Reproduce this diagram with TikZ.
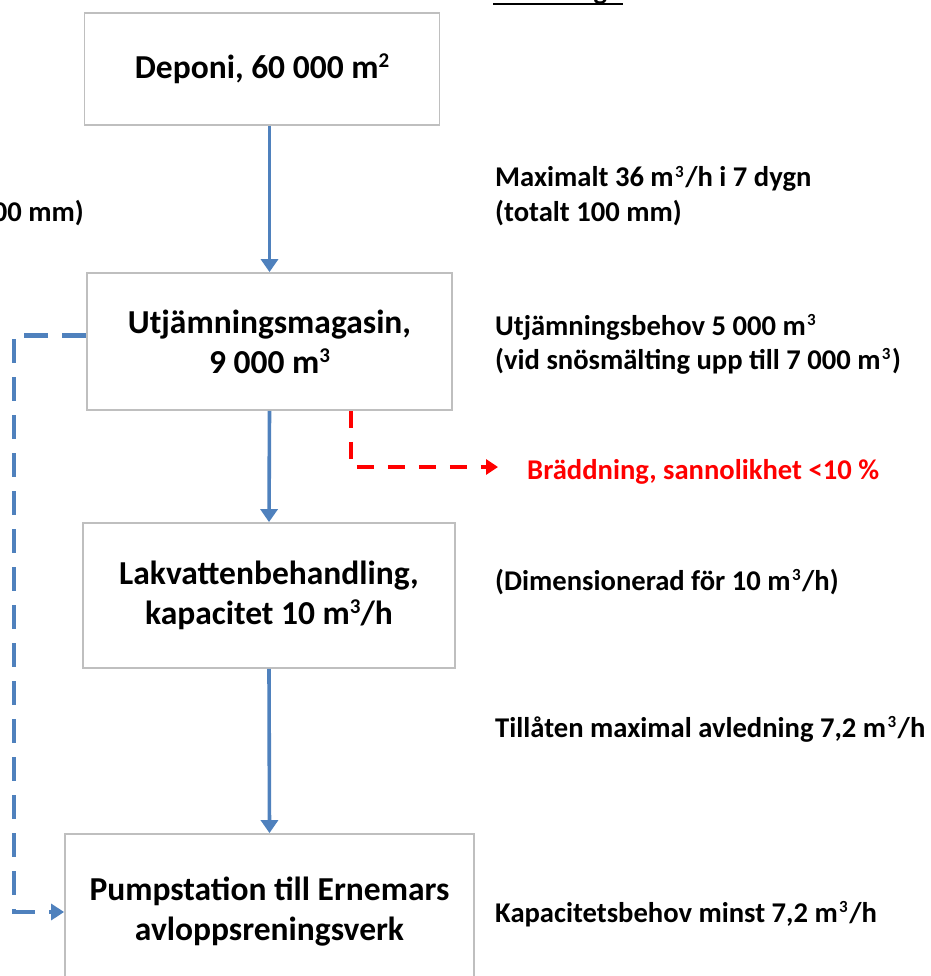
\documentclass[tikz,border=0pt]{standalone}
\usepackage{fontspec}
\setmainfont{Carlito}
\usetikzlibrary{arrows.meta}
\definecolor{flowblue}{RGB}{79,129,189}
\definecolor{boxgray}{RGB}{191,191,191}
\definecolor{overred}{RGB}{255,0,0}
\newcommand{\boxfont}{\fontsize{33.5}{40}\selectfont\bfseries}
\newcommand{\notefont}{\fontsize{28.6}{35}\selectfont\bfseries}
\newcommand{\bsup}[1]{\raisebox{11pt}{\fontsize{21}{21}\selectfont #1}}
\newcommand{\nsup}[1]{\kern1.5pt\raisebox{9.5pt}{\fontsize{17}{17}\selectfont #1}\kern1.5pt}
\begin{document}
\begin{tikzpicture}[x=1pt,y=-1pt,
  box/.style={draw=boxgray, line width=1.8pt, fill=white, align=center, inner sep=0pt, font=\boxfont},
  flow/.style={draw=flowblue, line width=3.6pt, -{Triangle[width=17pt,length=13pt]}},
  bluedash/.style={draw=flowblue, line width=4.2pt, dash pattern=on 24pt off 14pt, -{Triangle[width=16pt,length=13pt]}},
  reddash/.style={draw=overred, line width=4.2pt, dash pattern=on 17pt off 14pt, -{Triangle[width=15pt,length=12pt]}},
  note/.style={anchor=base west, inner sep=0pt, font=\notefont},
]
\useasboundingbox (0,0) rectangle (930,976);
\begin{scope}
\clip (0,0) rectangle (930,976);
% boxes
\node[box, minimum width=355pt, minimum height=112pt] (dep) at (262,69) {Deponi, 60 000 m\bsup{2}};
\node[box, minimum width=365pt, minimum height=137pt] (utj) at (269.5,341.5) {Utjämningsmagasin,\\9 000 m\bsup{3}};
\node[box, minimum width=372pt, minimum height=145pt] (lak) at (269,595.5) {Lakvattenbehandling,\\kapacitet 10 m\bsup{3}/h};
\node[box, minimum width=409pt, minimum height=156pt] (pump) at (269.5,912) {Pumpstation till Ernemars\\avloppsreningsverk};
% flow arrows
\draw[flow] (dep.south -| utj) -- (utj.north);
\draw[flow] (utj.south) -- (lak.north);
\draw[flow] (lak.south) -- (pump.north);
% bypass (blue dashed)
\coordinate (bl) at (14,912);
\draw[bluedash] ([yshift=6pt]utj.west) -| (bl) -- (pump.west);
% overflow (red dashed)
\coordinate (rb) at (351,467);
\coordinate (rend) at (498,467);
\draw[reddash] (utj.south -| rb) |- (rend);
\node[note, text=overred] (bradd) at (527,479) {Bräddning, sannolikhet <10 \%};
% header (cut at top)
\node[note] (hdr) at (493,0) {Medelregn};
\draw[line width=2pt] ([yshift=-4pt]hdr.base west) -- ([yshift=-4pt]hdr.base east);
% left cut text
\node[note, anchor=base east] (leftcut) at (84,222) {(totalt 100 mm)};
% right notes
\node[note] (n1) at (495,187) {Maximalt 36 m\nsup{3}/h i 7 dygn};
\node[note] (n2) at (495,222) {(totalt 100 mm)};
\node[note] (n3) at (495,335) {Utjämningsbehov 5 000 m\nsup{3}};
\node[note] (n4) at (495,369) {(vid snösmälting upp till 7 000 m\nsup{3})};
\node[note] (n5) at (495,590) {(Dimensionerad för 10 m\nsup{3}/h)};
\node[note] (n6) at (495,737) {Tillåten maximal avledning 7,2 m\nsup{3}/h};
\node[note] (n7) at (495,922) {Kapacitetsbehov minst 7,2 m\nsup{3}/h};
\end{scope}
\end{tikzpicture}
\end{document}
